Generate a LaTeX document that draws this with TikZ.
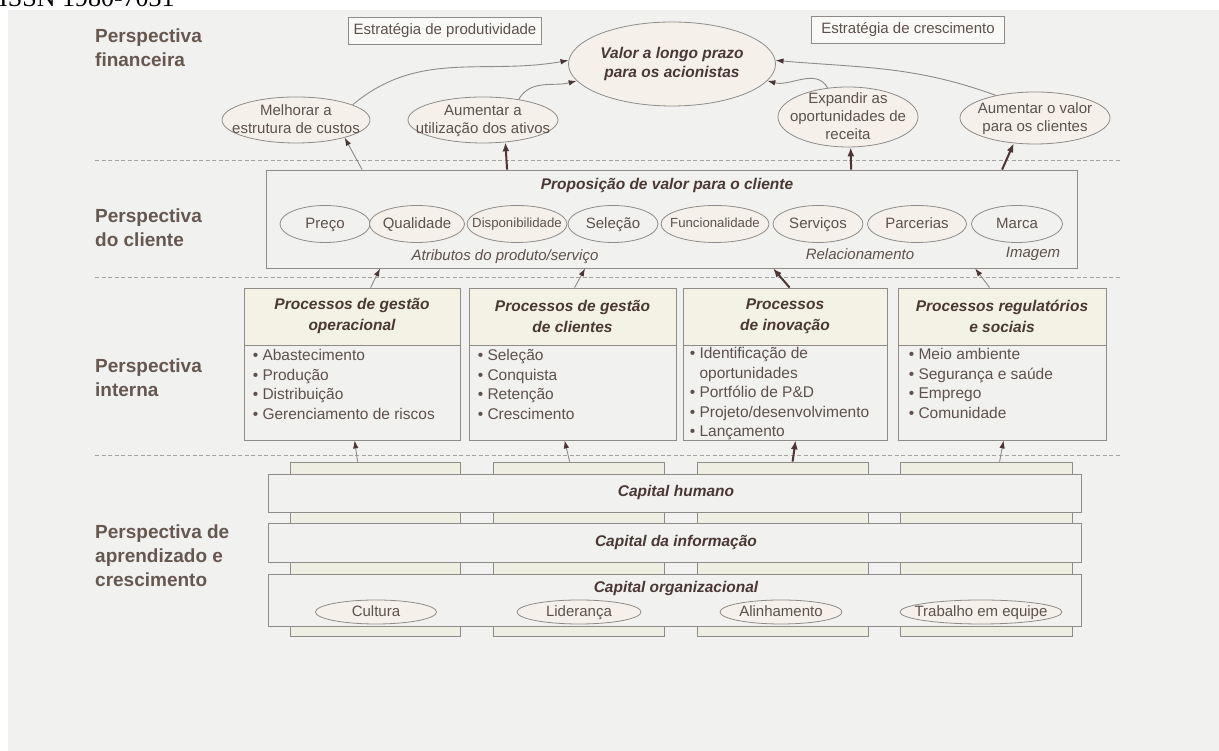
\documentclass[tikz,border=0pt]{standalone}
\usepackage{fontspec}
\setmainfont{Liberation Sans}
\newfontfamily\issnfont{Liberation Serif}
\usetikzlibrary{
    shapes.geometric,
    arrows.meta % arrow tips
}

\definecolor{bggray}{HTML}{F1F1F0}
\definecolor{linegray}{HTML}{8E8B88}
\definecolor{txt}{HTML}{5E514C}
\definecolor{headtxt}{HTML}{4A3833}
\definecolor{perstxt}{HTML}{66574F}
\definecolor{ovalfill}{HTML}{F5F1EA}
\definecolor{headfill}{HTML}{F3F2E5}
\definecolor{pilarfill}{HTML}{EEEFE2}
\definecolor{arrowdark}{HTML}{4A3632}

\newcommand{\bodyfont}{\fontsize{15}{18}\selectfont}
\newcommand{\smallbody}{\fontsize{13.2}{15}\selectfont}
\newcommand{\listfont}{\fontsize{15.5}{19.5}\selectfont}
\newcommand{\headfont}{\fontsize{15.5}{21}\selectfont\bfseries\itshape}
\newcommand{\persfont}{\fontsize{19}{24}\selectfont\bfseries}
% text kept inside a fixed-size oval
\newcommand{\ovtxt}[1]{\makebox[0pt]{\smash{\raisebox{-0.27em}{\begin{tabular}{@{}c@{}}#1\end{tabular}}}}}

\tikzset{
    pers/.style={font=\persfont, text=perstxt, align=left, anchor=west, inner sep=0pt},
    oval/.style={ellipse, draw=linegray, fill=ovalfill, line width=0.8pt, inner sep=0pt, font=\bodyfont, text=txt},
    stratbox/.style={draw=linegray, fill=white!55!bggray, line width=0.8pt, font=\bodyfont, text=txt,
        minimum width=193, minimum height=27, inner sep=0pt},
    panel/.style={draw=linegray, fill=bggray, line width=0.8pt, inner sep=0pt},
    prohead/.style={panel, fill=headfill, font=\headfont, text=headtxt, align=center},
    items/.style={font=\listfont, text=txt, align=left, inner sep=0pt, anchor=north west},
    pilar/.style={draw=linegray, fill=pilarfill, line width=0.8pt, inner sep=0pt},
    capt/.style={font=\headfont, text=headtxt, inner sep=0pt},
    note/.style={font=\bodyfont\itshape, text=txt, inner sep=0pt},
    layerline/.style={draw=linegray!80, line width=0.7pt, dash pattern=on 4pt off 2.5pt},
    thinarrow/.style={draw=linegray, line width=0.9pt, -{Latex[length=8pt,width=5.5pt,color=arrowdark]}},
    thickarrow/.style={draw=arrowdark, line width=2pt, -{Latex[length=9pt,width=7pt]}}
}

\begin{document}
\begin{tikzpicture}[x=1pt,y=1pt]
    \useasboundingbox (0,0) rectangle (1219,751);
    \fill[bggray] (8,0) rectangle (1219,741);
    \node[font=\issnfont\fontsize{26}{28}\selectfont, anchor=base west, inner sep=0pt] (issn) at (-1,744) {ISSN 1980-7031};

    % perspectives
    \node[pers] (pfin) at (95,703) {Perspectiva\\financeira};
    \node[pers] (pcli) at (95,523) {Perspectiva\\do cliente};
    \node[pers] (pint) at (95,373) {Perspectiva\\interna};
    \node[pers] (papr) at (95,195) {Perspectiva de\\aprendizado e\\crescimento};

    \draw[layerline] (95,591) -- (1120,591);
    \draw[layerline] (95,474) -- (1120,474);
    \draw[layerline] (95,296) -- (1120,296);

    % financial
    \node[stratbox] (sprod) at (445,720) {Estratégia de produtividade};
    \node[stratbox] (scresc) at (908,721) {Estratégia de crescimento};
    \node[oval, minimum width=207, minimum height=84, font=\fontsize{15.5}{19}\selectfont\bfseries\itshape, text=headtxt] (valor) at (672,687)
        {\ovtxt{Valor a longo prazo\\para os acionistas}};
    \node[oval, minimum width=148, minimum height=46] (mel) at (296,631) {\ovtxt{Melhorar a\\estrutura de custos}};
    \node[oval, minimum width=150, minimum height=46] (aum) at (483,631) {\ovtxt{Aumentar a\\utilização dos ativos}};
    \node[oval, minimum width=140, minimum height=60] (exp) at (848,634) {\ovtxt{Expandir as\\oportunidades de\\receita}};
    \node[oval, minimum width=150, minimum height=52] (aumv) at (1035,633) {\ovtxt{Aumentar o valor\\para os clientes}};

    \draw[thinarrow] (mel.15) to[out=40,in=190] (valor.178);
    \draw[thinarrow] (aum.30) to[out=60,in=195] (valor.190);
    \draw[thinarrow] (exp.125) to[out=120,in=-15] (valor.-10);
    \draw[thinarrow] (aumv.150) to[out=160,in=-5] (valor.2);

    % customer
    \node[panel, minimum width=811, minimum height=98] (cli) at (672,532) {};
    \node[capt] (cliT) at (667,565) {Proposição de valor para o cliente};
    \node[oval, minimum width=90, minimum height=37, fill=bggray] (preco) at (325,527) {\ovtxt{Preço}};
    \node[oval, minimum width=95, minimum height=37] (qual) at (417,527) {\ovtxt{Qualidade}};
    \node[oval, minimum width=100, minimum height=37, font=\smallbody] (disp) at (517,527) {\ovtxt{Disponibilidade}};
    \node[oval, minimum width=90, minimum height=37, fill=bggray] (sel) at (613,527) {\ovtxt{Seleção}};
    \node[oval, minimum width=108, minimum height=37, font=\smallbody] (func) at (715,527) {\ovtxt{Funcionalidade}};
    \node[oval, minimum width=90, minimum height=37] (serv) at (818,527) {\ovtxt{Serviços}};
    \node[oval, minimum width=99, minimum height=37] (parc) at (917,527) {\ovtxt{Parcerias}};
    \node[oval, minimum width=91, minimum height=37, fill=bggray] (marca) at (1017,527) {\ovtxt{Marca}};
    \node[note] (atrib) at (505,494) {Atributos do produto/serviço};
    \node[note] (relac) at (860,497) {Relacionamento};
    \node[note] (imag) at (1033,497) {Imagem};

    \draw[thinarrow] ([xshift=96pt]cli.north west) -- (mel.-20);
    \draw[thickarrow] ([xshift=241pt]cli.north west) -- (aum.-45);
    \draw[thickarrow] ([xshift=585pt]cli.north west) -- (exp.-85);
    \draw[thickarrow] ([xshift=736pt]cli.north west) -- (aumv.-130);

    % internal processes
    \node[panel, minimum width=216, minimum height=152] (p1) at (352,387) {};
    \node[panel, minimum width=207, minimum height=152] (p2) at (572.5,387) {};
    \node[panel, minimum width=204, minimum height=152] (p3) at (785,387) {};
    \node[panel, minimum width=208, minimum height=152] (p4) at (1002,387) {};
    \node[prohead, minimum width=216, minimum height=57, anchor=north] (p1h) at (p1.north) {Processos de gestão\\operacional};
    \node[prohead, minimum width=207, minimum height=57, anchor=north] (p2h) at (p2.north) {Processos de gestão\\de clientes};
    \node[prohead, minimum width=204, minimum height=57, anchor=north] (p3h) at (p3.north) {Processos\\de inovação};
    \node[prohead, minimum width=208, minimum height=57, anchor=north] (p4h) at (p4.north) {Processos regulatórios\\e sociais};
    \node[items] (p1l) at ([xshift=9pt,yshift=-4pt]p1h.south west)
        {• Abastecimento\\• Produção\\• Distribuição\\• Gerenciamento de riscos};
    \node[items] (p2l) at ([xshift=9pt,yshift=-4pt]p2h.south west)
        {• Seleção\\• Conquista\\• Retenção\\• Crescimento};
    \node[items] (p3l) at ([xshift=7pt,yshift=-2pt]p3h.south west)
        {• Identificação de\\\phantom{• }oportunidades\\• Portfólio de P\&D\\• Projeto/desenvolvimento\\• Lançamento};
    \node[items] (p4l) at ([xshift=11pt,yshift=-3pt]p4h.south west)
        {• Meio ambiente\\• Segurança e saúde\\• Emprego\\• Comunidade};

    \draw[thinarrow] ([xshift=127pt]p1h.north west) -- ([xshift=114pt]cli.south west);
    \draw[thinarrow] ([xshift=106pt]p2h.north west) -- ([xshift=319pt]cli.south west);
    \draw[thickarrow] ([xshift=107pt]p3h.north west) -- ([xshift=507pt]cli.south west);
    \draw[thinarrow] ([xshift=92pt]p4h.north west) -- ([xshift=709pt]cli.south west);

    % learning and growth
    \node[pilar, minimum width=170, minimum height=174] (pil1) at (375,202) {};
    \node[pilar, minimum width=171, minimum height=174] (pil2) at (578.5,202) {};
    \node[pilar, minimum width=171, minimum height=174] (pil3) at (782.5,202) {};
    \node[pilar, minimum width=172, minimum height=174] (pil4) at (986,202) {};
    \node[panel, minimum width=813, minimum height=38] (hum) at (674.5,258) {};
    \node[panel, minimum width=813, minimum height=39] (info) at (674.5,208.5) {};
    \node[panel, minimum width=813, minimum height=52] (org) at (674.5,151) {};
    \node[capt] (humT) at (676,258) {Capital humano};
    \node[capt] (infoT) at (676,208) {Capital da informação};
    \node[capt] (orgT) at (676,162) {Capital organizacional};
    \node[oval, minimum width=121, minimum height=24] (cult) at (376,139) {\ovtxt{Cultura}};
    \node[oval, minimum width=124, minimum height=24] (lid) at (579,139) {\ovtxt{Liderança}};
    \node[oval, minimum width=122, minimum height=24] (alin) at (781,139) {\ovtxt{Alinhamento}};
    \node[oval, minimum width=162, minimum height=24] (trab) at (981,139) {\ovtxt{Trabalho em equipe}};

    \draw[thinarrow] ([xshift=68pt]pil1.north west) -- ([xshift=111pt]p1.south west);
    \draw[thinarrow] ([xshift=77pt]pil2.north west) -- ([xshift=96pt]p2.south west);
    \draw[thickarrow] ([xshift=96pt]pil3.north west) -- ([xshift=113pt]p3.south west);
    \draw[thinarrow] ([xshift=100pt]pil4.north west) -- ([xshift=106pt]p4.south west);
\end{tikzpicture}
\end{document}
